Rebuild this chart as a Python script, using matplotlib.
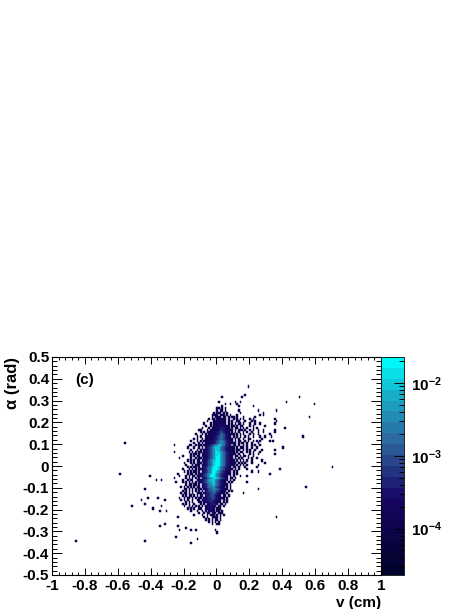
import numpy as np
import matplotlib
matplotlib.use("Agg")
import matplotlib.pyplot as plt
from matplotlib.colors import LinearSegmentedColormap, LogNorm
from matplotlib.ticker import LogLocator, MultipleLocator, NullFormatter, FixedFormatter, FixedLocator

# content of one bin for each level character
level_chars = "123456789a"
level_values = [1e-4, 1.4e-4, 2e-4, 3e-4, 4.5e-4, 7.5e-4, 1.5e-3, 3.5e-3, 9e-3, 2e-2]

# v from -0.30 to 0.30, alpha from 0.32 down to -0.27, 0.01 per bin
core_rows = [
    "....................|.............1...........|1..............",
    "....................|.........................|...............",
    "....................|...........1............1|...............",
    "....................|...............1..1...1..|...............",
    "....................|.............1.........1.|.......1.......",
    "....................|..........11.1.1.........|...............",
    "....................|..........1.11.1.......1.|..........1....",
    "....................|........1.111.1.1.......1|.............1.",
    "....................|.......1111.111.1.1...1..|...........1.1.",
    "....................|.......1.1212.11.1.11.1..|.1......1......",
    "....................|.....1.11.223221.1..1.1.1|.1...1.1.......",
    "....................|....1...11223321.1.1..11.|..1...1.1......",
    "....................|..1...1.12334321.1.1.1.11|.1...1..1..1...",
    "....................|...1..1.1233444321.11.1.1|1....1.1......1",
    "....................|.1...1.11233454321.1.11.1|.1.1...1.1.....",
    "...................1|1...1.11223455432211.1.11|1.1..1.1..1..1.",
    "....................|1.1.11223345665432.1.1.1.|.1.1..1...1..1.",
    ".................1..|.1.1.1223345676543211.1.1|.1...1.1..1....",
    "..................1.|1..1122334567765432.1.1.1|..1.1..1...1..1",
    "................1.1.|.1.12233455677654321.1.1.|.1..11......1..",
    "..............1...1.|1.122334456788765432.1.11|..1.1..1.1.1...",
    "................1..1|.1.1223345678876543211.1.|11.1..1...1....",
    "....1........11..1.1|1.23345678899876543.21.1.|.1.1..1.1..1...",
    "............1...1..1|.1.345678999876543221.1.1|11.1..1..1.....",
    "..............1...1.|1.1345678999876543321.11.|.1.1.1..1...1..",
    "....1........1.1.1.1|1.23456789a9987654321.1.1|1..1.1.1...1...",
    "..............1.11.1|.1234567899a9876543221.1.|.1...1.1..1....",
    ".........1....1.1.11|.123456789aa98765432.11.1|.11.1..1.......",
    ".......1......1..1.1|1.23456789aa98765432.1.1.|1...1.1..1.....",
    "............1.1.1.11|.234567899aa987654322.1.1|.1.1..1.....1..",
    "..........1...1.1.11|1.3456789aaa9876543221.1.|1.1...1.......1",
    "...........1...1.111|.23456789aaa987654321.1.1|.1.1......1....",
    "............1.1.11.1|.3456789aaa98765432.21.1.|..1......1.....",
    ".........1...1.1.1.1|23456789aaa987654321.1.1.|...1...........",
    "..........1.1.1.11.2|.345678aaa987654322.1.1..|......1...1....",
    "......1.....1.11.1.2|3456789aa9876543221.1.1..|...............",
    ".......1...1.1.11.22|345678aaa98765432.1.1...1|...1...........",
    "....1......1.1.1.1.2|.34567899a9876543.21.1...|...............",
    ".........1..1.11..12|34567899987654321.1.1....|...............",
    ".....1...1.1.1.1.1.2|3456788998765432.1.1.....|...1...........",
    "...........1.11.11.2|.3456788987654321.1......|...............",
    "........1.1.1.1.1.12|.34567788765432.1.1......|...............",
    "..........11.1.1.1.2|2.345677887654321.1......|..........1....",
    ".........1.1.1.1.1.2|.3.4566777654321.1.1.....|...............",
    "........1.11.1.1..12|2.3455667654321.1........|.1.............",
    ".........1.1.11.1.1.|23.4556665432.11.1.......|...............",
    ".......1..1.11.1.1.2|1.3445566543211.1........|...............",
    "........1.1.1..1..11|.234455654321.1.1........|...............",
    "...........1.1.1...1|1.33445543211.1.1........|...............",
    ".........1.1.1..1...|1.2.3344543.11.1.........|...............",
    "..........1..1.1.1.1|.1.2334432.11.1..........|...............",
    "............1.1.1..1|1..233432.111............|...............",
    "..............1...1.|.1.2.3322.11.1...........|...............",
    "...................1|..1.12.332.111...........|...............",
    "................1...|.1..1.221.1.1.1..........|...............",
    "....................|..1.1..1211.1............|...............",
    "....................|...1.1.1.11.1............|...............",
    "....................|.....1.1.1.1.............|...............",
    "....................|.......1..11.............|...............",
]

# single entries away from the core
stray_v = [-0.854, -0.433, -0.554, -0.585, -0.402, -0.514, -0.433, -0.384, -0.333, -0.343,
           -0.303, -0.343, -0.313, -0.435, -0.455, -0.415, -0.356, -0.364, -0.333, -0.313,
           -0.307, -0.151, -0.242, -0.120, -0.238, -0.226, -0.181, -0.151, -0.130, -0.003,
           0.007, -0.234, 0.508, 0.429, 0.599, 0.368, 0.568, 0.357, 0.368, 0.357,
           0.418, 0.357, 0.357, 0.528, 0.330, 0.338, 0.330, 0.348, 0.408, 0.357,
           0.357, 0.388, 0.330, 0.708, 0.548, 0.368, 0.198, 0.177, 0.117]
stray_alpha = [-0.345, -0.345, 0.104, -0.034, -0.046, -0.185, -0.176, -0.197, -0.183, -0.206,
               -0.206, -0.275, -0.266, -0.105, -0.156, -0.145, -0.145, -0.064, -0.064, -0.156,
               -0.202, -0.358, -0.327, -0.336, -0.277, -0.295, -0.286, -0.295, -0.295, -0.297,
               -0.306, -0.235, 0.313, 0.295, 0.284, 0.254, 0.223, 0.214, 0.203, 0.193,
               0.173, 0.165, 0.155, 0.135, 0.144, 0.133, 0.113, 0.113, 0.084, 0.073,
               0.054, -0.015, -0.037, -0.006, -0.096, -0.235, 0.364, 0.325, 0.295]

x_ticks = [-1, -0.8, -0.6, -0.4, -0.2, 0, 0.2, 0.4, 0.6, 0.8, 1]
x_tick_labels = ["-1", "-0.8", "-0.6", "-0.4", "-0.2", "0", "0.2", "0.4", "0.6", "0.8", "1"]
y_ticks = [-0.5, -0.4, -0.3, -0.2, -0.1, 0, 0.1, 0.2, 0.3, 0.4, 0.5]
y_tick_labels = ["-0.5", "-0.4", "-0.3", "-0.2", "-0.1", "0", "0.1", "0.2", "0.3", "0.4", "0.5"]
z_ticks = [1e-4, 1e-3, 1e-2]
z_tick_labels = [r"$\mathbf{10^{-4}}$", r"$\mathbf{10^{-3}}$", r"$\mathbf{10^{-2}}$"]
z_min = 2.3e-5
z_max = 2.27e-2

# ROOT deep sea palette, 20 contours
deep_sea = [(0.00, (0.00, 0.01, 0.17)), (0.34, (0.09, 0.02, 0.39)), (0.61, (0.18, 0.39, 0.62)),
            (0.84, (0.09, 0.68, 0.79)), (1.00, (0.00, 0.97, 0.97))]

W, H = 471, 609


def fill_grid():
    x_edges = np.linspace(-1, 1, 201)
    y_edges = np.linspace(-0.5, 0.5, 101)
    z = np.zeros((100, 200))
    lookup = dict(zip(level_chars, level_values))
    for r, row in enumerate(core_rows):
        cells = row.replace("|", "")
        for c, ch in enumerate(cells):
            if ch in lookup:
                z[81 - r, 70 + c] = lookup[ch]
    counts, _, _ = np.histogram2d(stray_alpha, stray_v, bins=[y_edges, x_edges])
    z = np.maximum(z, counts * 1e-4)
    return x_edges, y_edges, np.ma.masked_where(z <= 0, z)


def main():
    plt.rcParams["font.family"] = ["Liberation Sans", "DejaVu Sans"]
    plt.rcParams["font.weight"] = "bold"
    plt.rcParams["mathtext.fontset"] = "custom"
    plt.rcParams["mathtext.bf"] = "Liberation Sans:bold"
    plt.rcParams["mathtext.rm"] = "Liberation Sans:bold"

    fig = plt.figure(figsize=(W / 100, H / 100), dpi=100)
    ax = fig.add_axes([52 / W, 1 - 575 / H, 329 / W, 218 / H])
    cax = fig.add_axes([381 / W, 1 - 575 / H, 23 / W, 218 / H])

    cmap = LinearSegmentedColormap.from_list("deep_sea", deep_sea, N=20)
    x_edges, y_edges, z = fill_grid()
    mesh = ax.pcolormesh(x_edges, y_edges, z, cmap=cmap, norm=LogNorm(z_min, z_max),
                         edgecolors="face", linewidth=0.35, antialiased=True)

    ax.set_xlim(-1, 1)
    ax.set_ylim(-0.5, 0.5)
    ax.set_xticks(x_ticks)
    ax.set_xticklabels(x_tick_labels, fontsize=11)
    ax.set_yticks(y_ticks)
    ax.set_yticklabels(y_tick_labels, fontsize=11)
    ax.xaxis.set_minor_locator(MultipleLocator(0.04))
    ax.yaxis.set_minor_locator(MultipleLocator(0.02))
    ax.tick_params(axis="x", which="major", direction="in", top=True, length=4.7, width=0.7, pad=3)
    ax.tick_params(axis="x", which="minor", direction="in", top=True, length=2.3, width=0.7)
    ax.tick_params(axis="y", which="major", direction="in", right=True, length=7, width=0.7, pad=2)
    ax.tick_params(axis="y", which="minor", direction="in", right=True, length=3.5, width=0.7)
    for spine in ax.spines.values():
        spine.set_linewidth(0.8)

    ax.text(-0.86, 0.395, "(c)", fontsize=11, fontweight="bold", ha="left", va="center")
    fig.text(381 / W, 1 - 603 / H, "v (cm)", fontsize=11, fontweight="bold", ha="right", va="center")
    fig.text(12 / W, 1 - 357 / H, "\u03b1 (rad)", fontsize=12, fontweight="bold", rotation=90, ha="center", va="top")

    cb = fig.colorbar(mesh, cax=cax)
    cb.outline.set_linewidth(0.6)
    cax.yaxis.set_major_locator(FixedLocator(z_ticks))
    cax.yaxis.set_major_formatter(FixedFormatter(z_tick_labels))
    cax.yaxis.set_minor_locator(LogLocator(base=10, subs=range(2, 10), numticks=12))
    cax.yaxis.set_minor_formatter(NullFormatter())
    cax.tick_params(which="major", direction="in", length=7.5, width=0.7, labelsize=11, pad=5)
    cax.tick_params(which="minor", direction="in", length=3.5, width=0.7)

    fig.savefig("out.png", dpi=100)


if __name__ == "__main__":
    main()
